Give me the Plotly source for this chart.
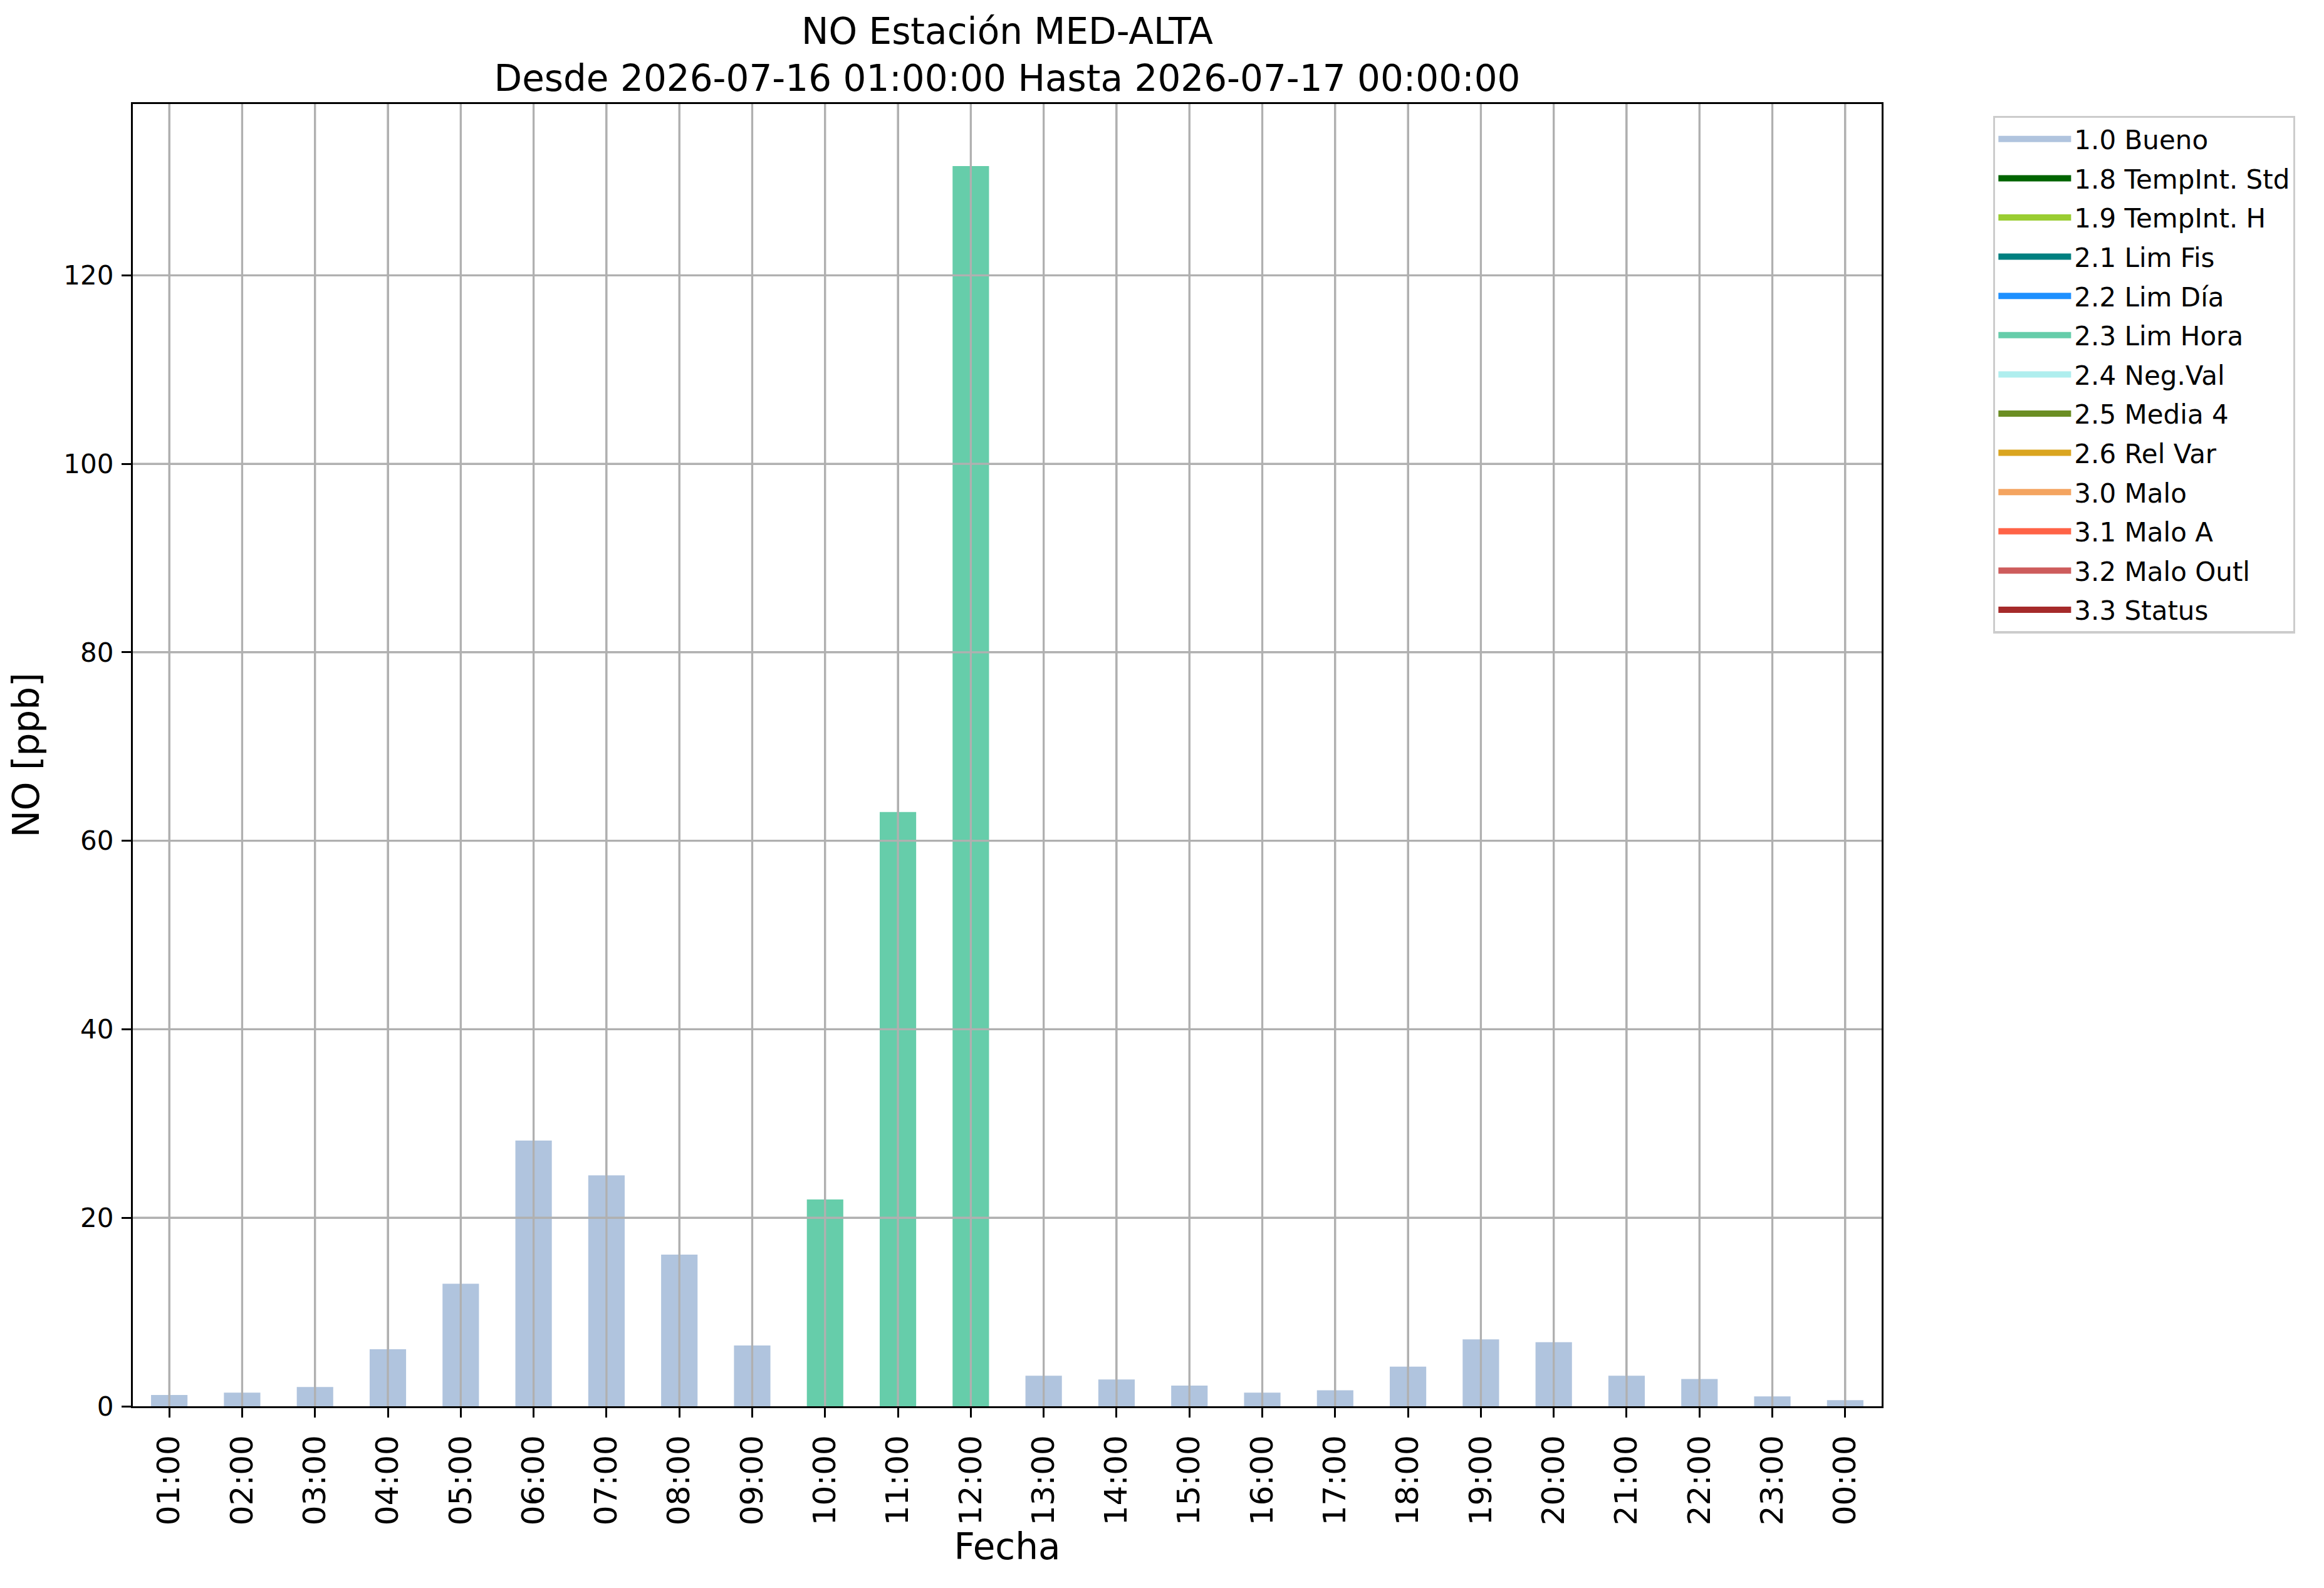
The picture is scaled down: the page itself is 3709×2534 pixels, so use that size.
"""Gráfico de barras horarias de NO para la estación MED-ALTA, coloreado por flag de validación."""

import plotly.graph_objects as go

HOURS = [
    "01:00", "02:00", "03:00", "04:00", "05:00", "06:00", "07:00", "08:00",
    "09:00", "10:00", "11:00", "12:00", "13:00", "14:00", "15:00", "16:00",
    "17:00", "18:00", "19:00", "20:00", "21:00", "22:00", "23:00", "00:00",
]
NO_VALUES = [
    1.2, 1.45, 2.05, 6.05, 13.0, 28.2, 24.5, 16.1,
    6.45, 21.95, 63.05, 131.6, 3.25, 2.85, 2.2, 1.45,
    1.7, 4.2, 7.1, 6.8, 3.25, 2.9, 1.05, 0.65,
]
HOUR_FLAGS = [
    "1.0 Bueno", "1.0 Bueno", "1.0 Bueno", "1.0 Bueno", "1.0 Bueno", "1.0 Bueno",
    "1.0 Bueno", "1.0 Bueno", "1.0 Bueno", "2.3 Lim Hora", "2.3 Lim Hora", "2.3 Lim Hora",
    "1.0 Bueno", "1.0 Bueno", "1.0 Bueno", "1.0 Bueno", "1.0 Bueno", "1.0 Bueno",
    "1.0 Bueno", "1.0 Bueno", "1.0 Bueno", "1.0 Bueno", "1.0 Bueno", "1.0 Bueno",
]
FLAG_LABELS = [
    "1.0 Bueno", "1.8 TempInt. Std", "1.9 TempInt. H", "2.1 Lim Fis", "2.2 Lim Día",
    "2.3 Lim Hora", "2.4 Neg.Val", "2.5 Media 4", "2.6 Rel Var", "3.0 Malo",
    "3.1 Malo A", "3.2 Malo Outl", "3.3 Status",
]
FLAG_COLORS = [
    "#B0C4DE", "#006400", "#9ACD32", "#008080", "#1E90FF",
    "#66CDAA", "#AFEEEE", "#6B8E23", "#DAA520", "#F4A460",
    "#FF6347", "#CD5C5C", "#A52A2A",
]
Y_TICKS = [0, 20, 40, 60, 80, 100, 120]

TITLE = "NO Estación MED-ALTA<br>Desde 2026-07-16 01:00:00 Hasta 2026-07-17 00:00:00"
FONT = "DejaVu Sans"
GRID = "#b0b0b0"
LW = 3.3

fig = go.Figure()

for label, color in zip(FLAG_LABELS, FLAG_COLORS):
    y = [v if f == label else None for v, f in zip(NO_VALUES, HOUR_FLAGS)]
    fig.add_trace(go.Bar(
        x=HOURS, y=y, name=label, width=0.5,
        marker={"color": color, "line": {"width": 0}},
        legendgroup=label, showlegend=False,
    ))
    # proxy so the legend shows a wide patch like matplotlib
    fig.add_trace(go.Scatter(
        x=[None], y=[None], mode="lines", name=label,
        line={"color": color, "width": 29},
        legendgroup=label, showlegend=True, hoverinfo="skip",
    ))

# grid drawn over the bars (matplotlib default)
shapes = []
for i, _ in enumerate(HOURS):
    shapes.append(dict(type="line", xref="x", yref="paper", x0=i, x1=i, y0=0, y1=1,
                       line={"color": GRID, "width": LW}, layer="above"))
for t in Y_TICKS[1:]:
    shapes.append(dict(type="line", xref="paper", yref="y", x0=0, x1=1, y0=t, y1=t,
                       line={"color": GRID, "width": LW}, layer="above"))

# the page body adds ~8px, margins are shifted to compensate
fig.update_layout(
    width=3709, height=2534,
    margin={"l": 204, "r": 714, "t": 158, "b": 298},
    paper_bgcolor="white", plot_bgcolor="white",
    font={"family": FONT, "color": "black", "size": 42},
    barmode="overlay",
    shapes=shapes,
    title={
        "text": TITLE, "x": 0.5, "xref": "paper", "xanchor": "center",
        "y": 1 - 62 / 2534, "yref": "container", "yanchor": "top",
        "font": {"family": FONT, "size": 58, "color": "black"},
    },
    legend={
        "x": 1.0638, "y": 0.991, "xanchor": "left", "yanchor": "top",
        "bgcolor": "white", "bordercolor": "#cccccc", "borderwidth": LW,
        "font": {"family": FONT, "size": 42, "color": "black"},
        "traceorder": "grouped", "tracegroupgap": 5, "itemwidth": 116,
    },
)

fig.update_xaxes(
    type="category", categoryorder="array", categoryarray=HOURS,
    range=[-0.5, len(HOURS) - 0.5],
    showline=True, linecolor="black", linewidth=LW, mirror=True,
    ticks="outside", ticklen=15, tickwidth=LW, tickcolor="black",
    tickangle=-90, tickfont={"family": FONT, "size": 50},
    ticklabelstandoff=8,
    showgrid=True, gridcolor=GRID, gridwidth=LW,
    title={"text": "Fecha", "font": {"family": FONT, "size": 58}, "standoff": 12},
)
fig.update_yaxes(
    range=[0, max(NO_VALUES) * 1.05],
    tickmode="array", tickvals=Y_TICKS,
    showline=True, linecolor="black", linewidth=LW, mirror=True,
    ticks="outside", ticklen=15, tickwidth=LW, tickcolor="black",
    tickfont={"family": FONT, "size": 42},
    ticklabelstandoff=4,
    showgrid=True, gridcolor=GRID, gridwidth=LW, zeroline=False,
    title={"text": "NO [ppb]", "font": {"family": FONT, "size": 58}, "standoff": 24},
)

fig.write_html("out.html")
